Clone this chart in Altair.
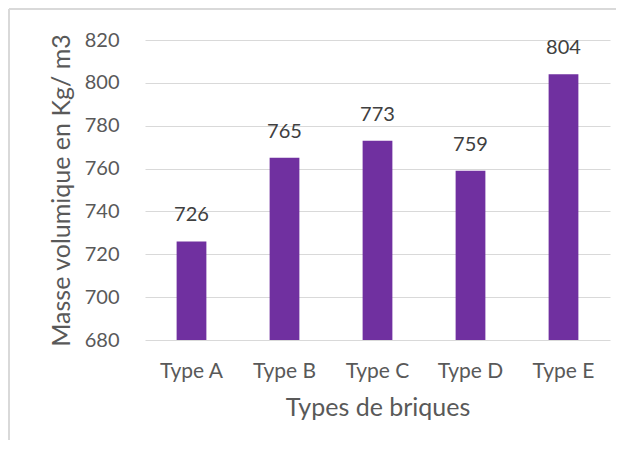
import altair as alt
import pandas as pd

categories = ["Type A", "Type B", "Type C", "Type D", "Type E"]
values = [726, 765, 773, 759, 804]

df = pd.DataFrame({"type": categories, "value": values})

FONT = "Lato"
TXT = "#595959"

base = alt.Chart(df).encode(
    x=alt.X("type:N", sort=categories,
            scale=alt.Scale(paddingInner=0.68, paddingOuter=0.34),
            axis=alt.Axis(title="Types de briques", labelAngle=0, ticks=False, grid=False,
                          domain=False, labelPadding=20, titlePadding=14,
                          labelFontSize=21, titleFontSize=25,
                          labelColor=TXT, titleColor=TXT,
                          labelFont=FONT, titleFont=FONT, titleFontWeight="normal")),
)

bars = base.mark_bar(color="#7030A0").encode(
    y=alt.Y("value:Q", scale=alt.Scale(domain=[680, 820], nice=False, zero=False),
            axis=alt.Axis(title="Masse volumique en Kg/ m3", values=list(range(680, 821, 20)),
                          ticks=False, domain=False, grid=True, gridColor="#D9D9D9",
                          labelPadding=26, titlePadding=10,
                          labelFontSize=20, titleFontSize=25,
                          labelColor=TXT, titleColor=TXT,
                          labelFont=FONT, titleFont=FONT, titleFontWeight="normal")),
    y2=alt.datum(680),
)

labels = base.mark_text(dy=-26, fontSize=20, font=FONT, color="#404040").encode(
    y="value:Q", text="value:Q"
)

border_top = alt.Chart(df).mark_rule(color="#D9D9D9", strokeWidth=1.5).encode(
    x=alt.value(-136), x2=alt.value(480), y=alt.value(-31)
)
border_left = alt.Chart(df).mark_rule(color="#D9D9D9", strokeWidth=1.5).encode(
    x=alt.value(-136), y=alt.value(-31), y2=alt.value(410)
)

chart = alt.layer(bars, labels, border_top, border_left).properties(
    width=465, height=300,
    background="white",
    autosize=alt.AutoSizeParams(type="none"),
    padding={"left": 137, "top": 32, "right": 6, "bottom": 100},
).configure_view(stroke=None, strokeWidth=0)

chart.save("out.html", embed_options={"renderer": "svg", "actions": False})
